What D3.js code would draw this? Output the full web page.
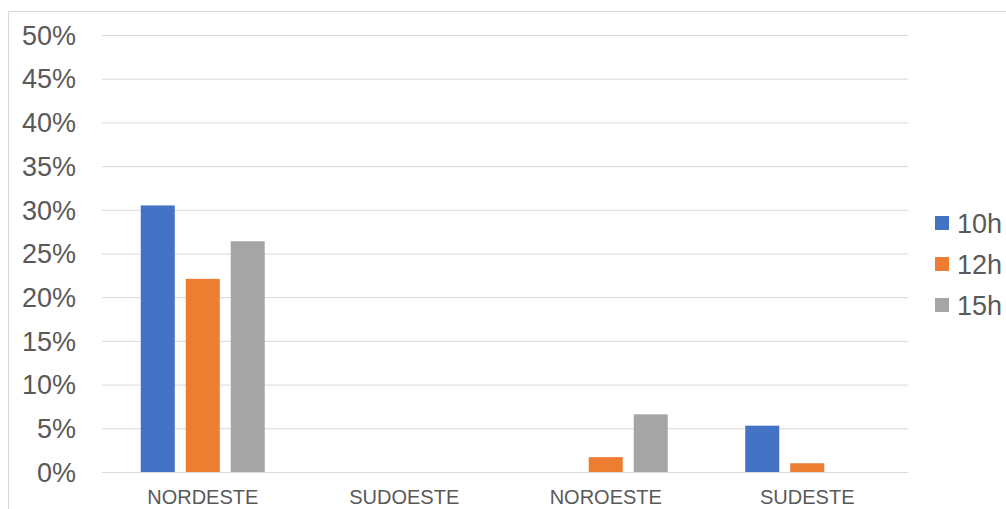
<!DOCTYPE html>
<html><head><meta charset="utf-8">
<script src="https://cdn.jsdelivr.net/npm/d3@7"></script>
<style>body{margin:0;background:#fff;}svg{display:block;font-family:"Liberation Sans",Arial,sans-serif;}</style>
</head><body><svg id="c" width="1006" height="509"></svg>
<script>
const categories = ["NORDESTE","SUDOESTE","NOROESTE","SUDESTE"];
const seriesNames = ["10h","12h","15h"];
const v10 = [30.5, 0, 0, 5.3];
const v12 = [22.1, 0, 1.7, 1.0];
const v15 = [26.4, 0, 6.6, 0];
const yTicks = [0,5,10,15,20,25,30,35,40,45,50];
const colors = ["#4472c4","#ed7d31","#a5a5a5"];
const seriesVals = [v10, v12, v15];

const svg = d3.select("#c");
svg.append("rect").attr("x",8.5).attr("y",11.5).attr("width",1010).attr("height",510)
  .attr("fill","none").attr("stroke","#d9d9d9");

const L=102, R=908, T=35, B=472;
const x = d3.scaleBand().domain(categories).range([L,R]);
const y = d3.scaleLinear().domain([0,50]).range([B,T]);
const GW = 124;
const xs = d3.scaleBand().domain(seriesNames).range([0,GW]).paddingInner(0.244);

const g = svg.append("g");
g.selectAll("line.grid").data(yTicks).join("line")
  .attr("x1",L).attr("x2",R).attr("y1",d=>y(d)+0.5).attr("y2",d=>y(d)+0.5)
  .attr("stroke","#d9d9d9").attr("stroke-width",1);

g.selectAll("text.yt").data(yTicks).join("text")
  .attr("x",76).attr("y",d=>y(d)).attr("dy","0.36em").attr("text-anchor","end")
  .attr("font-size",27).attr("fill","#595959").text(d=>d+"%");

seriesNames.forEach((s,i)=>{
  g.selectAll("rect.s"+i).data(categories).join("rect")
    .attr("x",c=>x(c)+x.bandwidth()/2-GW/2+xs(s))
    .attr("width",xs.bandwidth())
    .attr("y",(c,j)=>y(seriesVals[i][j]))
    .attr("height",(c,j)=>B-y(seriesVals[i][j]))
    .attr("fill",colors[i]);
});

g.selectAll("text.xt").data(categories).join("text")
  .attr("x",c=>x(c)+x.bandwidth()/2).attr("y",504).attr("text-anchor","middle")
  .attr("font-size",20).attr("fill","#595959").text(d=>d);

const lg = svg.append("g");
seriesNames.forEach((s,i)=>{
  const cy = 223 + i*41;
  lg.append("rect").attr("x",935).attr("y",cy-7).attr("width",14).attr("height",14).attr("fill",colors[i]);
  lg.append("text").attr("x",957).attr("y",cy).attr("dy","0.36em").attr("font-size",27)
    .attr("fill","#595959").text(s);
});
</script></body></html>
